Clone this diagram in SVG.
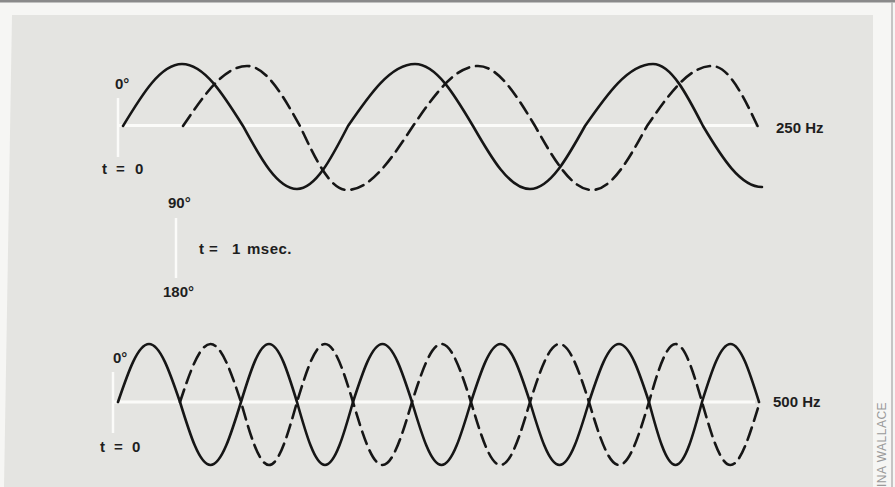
<svg xmlns="http://www.w3.org/2000/svg" width="895" height="487" viewBox="0 0 895 487">
<style>
.wave{fill:none;stroke:#161616;stroke-width:2.6;stroke-linecap:round;stroke-linejoin:round}
.dash{stroke-dasharray:13 7}
.axis{stroke:#fbfbf9;stroke-width:3;fill:none}
.tick{stroke:#fbfbf9;stroke-width:2.5;fill:none}
.lbl{font-family:"Liberation Sans",Arial,sans-serif;font-weight:bold;font-size:15px;fill:#1e1e1e}
.credit{font-family:"Liberation Sans",Arial,sans-serif;font-size:12px;fill:#9a9a9a;letter-spacing:0.5px}
</style>
<rect x="0" y="0" width="895" height="487" fill="#f6f6f4"/>
<rect x="0" y="0" width="895" height="2.5" fill="#8a8a8a"/>
<line x1="892" y1="2" x2="892" y2="487" stroke="#b5b5b5" stroke-width="1.5"/>
<polygon points="12,15 873,15 873,487 4,487" fill="#e4e4e1"/>

<g id="panel-250">
  <line class="axis" x1="118" y1="125.5" x2="755" y2="125.5"/>
  <line class="tick" x1="118" y1="98" x2="118" y2="157"/>
  <path id="wave-250-solid" class="wave" d="M123,126 C141.8,95 160.5,64 182,64 C204.2,64 223.6,95 243,126 C260.2,157.5 277.3,189 297,189 C315.6,189 331.8,157.5 348,126 C369.3,95 390.6,64 415,64 C436.1,64 454.6,95 473,126 C491.1,157.5 509.3,189 530,189 C550,189 567.5,157.5 585,126 C606.6,95 628.2,64 653,64 C671.2,64 687.1,95 703,126 C721.8,157.5 740.5,187 762,187"/>
  <path id="wave-250-dashed" class="wave dash" d="M183,126 C203.4,96 223.7,66 247,66 C266.3,66 283.1,96 300,126 C314.9,158 329.9,190 347,190 C371,190 392,158 413,126 C433.7,96 454.3,66 478,66 C498.7,66 516.9,96 535,126 C553.1,158 571.3,190 592,190 C612,190 629.5,158 647,126 C667.7,96 688.3,66 712,66 C728.7,66 743.4,96 758,127"/>
  <text class="lbl" x="115" y="89">0°</text>
  <text class="lbl" y="174"><tspan x="102">t</tspan><tspan x="116">=</tspan><tspan x="135">0</tspan></text>
  <text class="lbl" x="776" y="133">250 Hz</text>
</g>

<g id="phase-note">
  <line class="tick" x1="176" y1="218" x2="176" y2="278"/>
  <text class="lbl" x="168" y="208">90°</text>
  <text class="lbl" y="254"><tspan x="199">t</tspan><tspan x="209">=</tspan><tspan x="232">1</tspan><tspan x="247" letter-spacing="0.5">msec.</tspan></text>
  <text class="lbl" x="163" y="297">180°</text>
</g>

<g id="panel-500">
  <line class="axis" x1="113" y1="402" x2="755" y2="402"/>
  <line class="tick" x1="113" y1="372" x2="113" y2="433"/>
  <path id="wave-500-solid" class="wave" d="M118,402 C127.9,373 137.7,344 149,344 S170.1,373 180,402 C189.7,433.5 199.4,465 210.5,465 S231.3,433.5 241,402 C249.9,373 258.8,344 269,344 S288.1,373 297,402 C305.9,433.5 314.8,465 325,465 S344.1,433.5 353,402 C362.4,373 371.8,344 382.5,344 S402.6,373 412,402 C421.4,433.5 430.8,465 441.5,465 S461.6,433.5 471,402 C480.4,373 489.8,344 500.5,344 S520.6,373 530,402 C539.4,433.5 548.8,465 559.5,465 S579.6,433.5 589,402 C598.5,373 608.1,344 619,344 S639.5,373 649,402 C657.4,433.5 665.9,465 675.5,465 S693.6,433.5 702,402 C711.1,373 720.1,344 730.5,344 S749.9,373 759,402"/>
  <path id="wave-500-dashed" class="wave dash" d="M180,402 C189.7,373 199.4,344 210.5,344 S231.3,373 241,402 C249.9,433.5 258.8,465 269,465 S288.1,433.5 297,402 C305.9,373 314.8,344 325,344 S344.1,373 353,402 C362.4,433.5 371.8,465 382.5,465 S402.6,433.5 412,402 C421.4,373 430.8,344 441.5,344 S461.6,373 471,402 C480.4,433.5 489.8,465 500.5,465 S520.6,433.5 530,402 C539.4,373 548.8,344 559.5,344 S579.6,373 589,402 C598.5,433.5 608.1,465 619,465 S639.5,433.5 649,402 C657.4,373 665.9,344 675.5,344 S693.6,373 702,402 C711.1,433.5 720.1,465 730.5,465 S749.9,433.5 758,408"/>
  <text class="lbl" x="113" y="363">0°</text>
  <text class="lbl" y="452"><tspan x="100">t</tspan><tspan x="114">=</tspan><tspan x="132">0</tspan></text>
  <text class="lbl" x="773" y="407">500 Hz</text>
</g>

<text class="credit" transform="translate(886,487) rotate(-90)">INA WALLACE</text>
</svg>
